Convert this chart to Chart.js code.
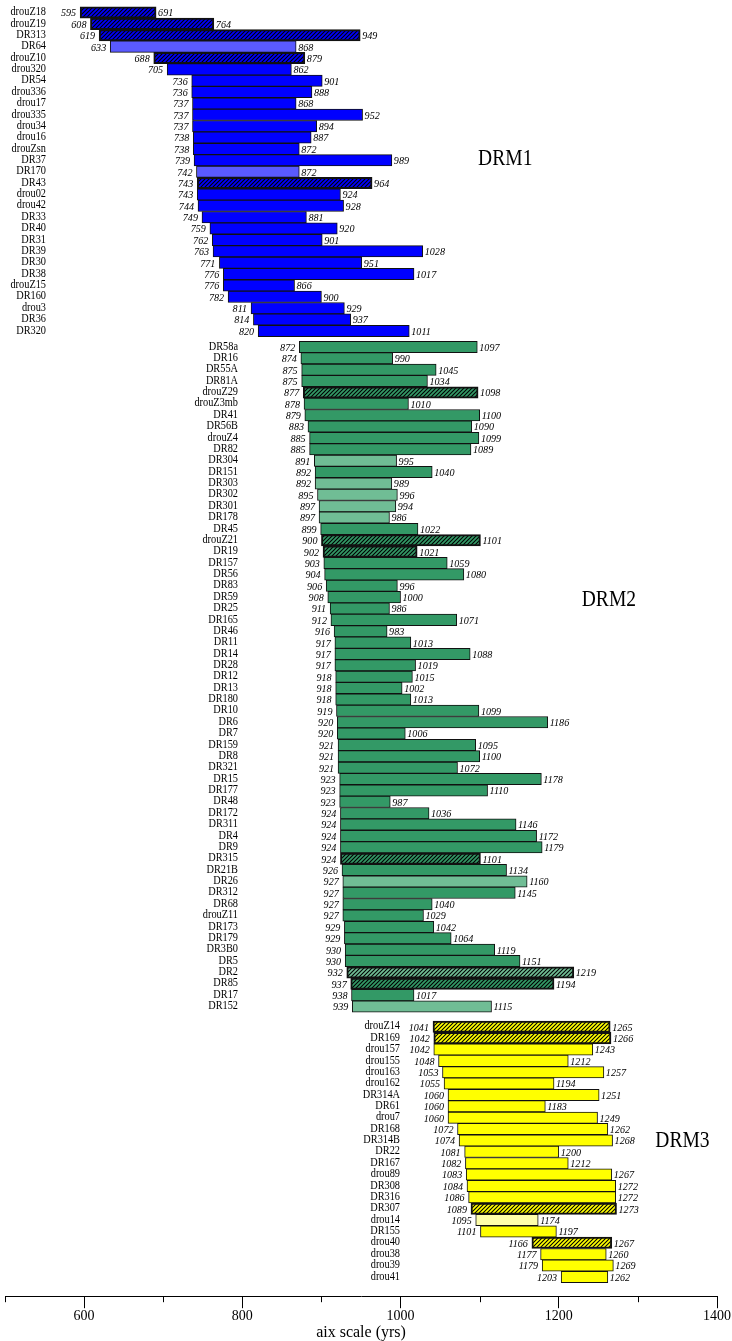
<!DOCTYPE html>
<html>
<head>
<meta charset="utf-8">
<script src="https://cdn.jsdelivr.net/npm/chart.js@4/dist/chart.umd.min.js"></script>
<style>
  html, body { margin: 0; padding: 0; background: #ffffff; }
  canvas { display: block; }
</style>
</head>
<body>
<canvas id="c" width="732" height="1341"></canvas>
<script>
// ---------------- DATA ----------------
const groupNames = ['DRM1', 'DRM2', 'DRM3'];

const drm1Names = ['drouZ18','drouZ19','DR313','DR64','drouZ10','drou320','DR54','drou336','drou17','drou335','drou34','drou16','drouZsn','DR37','DR170','DR43','drou02','drou42','DR33','DR40','DR31','DR39','DR30','DR38','drouZ15','DR160','drou3','DR36','DR320'];
const drm1Start = [595,608,619,633,688,705,736,736,737,737,737,738,738,739,742,743,743,744,749,759,762,763,771,776,776,782,811,814,820];
const drm1End   = [691,764,949,868,879,862,901,888,868,952,894,887,872,989,872,964,924,928,881,920,901,1028,951,1017,866,900,929,937,1011];

const drm2Names = ['DR58a','DR16','DR55A','DR81A','drouZ29','drouZ3mb','DR41','DR56B','drouZ4','DR82','DR304','DR151','DR303','DR302','DR301','DR178','DR45','drouZ21','DR19','DR157','DR56','DR83','DR59','DR25','DR165','DR46','DR11','DR14','DR28','DR12','DR13','DR180','DR10','DR6','DR7','DR159','DR8','DR321','DR15','DR177','DR48','DR172','DR311','DR4','DR9','DR315','DR21B','DR26','DR312','DR68','drouZ11','DR173','DR179','DR3B0','DR5','DR2','DR85','DR17','DR152'];
const drm2Start = [872,874,875,875,877,878,879,883,885,885,891,892,892,895,897,897,899,900,902,903,904,906,908,911,912,916,917,917,917,918,918,918,919,920,920,921,921,921,923,923,923,924,924,924,924,924,926,927,927,927,927,929,929,930,930,932,937,938,939];
const drm2End   = [1097,990,1045,1034,1098,1010,1100,1090,1099,1089,995,1040,989,996,994,986,1022,1101,1021,1059,1080,996,1000,986,1071,983,1013,1088,1019,1015,1002,1013,1099,1186,1006,1095,1100,1072,1178,1110,987,1036,1146,1172,1179,1101,1134,1160,1145,1040,1029,1042,1064,1119,1151,1219,1194,1017,1115];

const drm3Names = ['drouZ14','DR169','drou157','drou155','drou163','drou162','DR314A','DR61','drou7','DR168','DR314B','DR22','DR167','drou89','DR308','DR316','DR307','drou14','DR155','drou40','drou38','drou39','drou41'];
const drm3Start = [1041,1042,1042,1048,1053,1055,1060,1060,1060,1072,1074,1081,1082,1083,1084,1086,1089,1095,1101,1166,1177,1179,1203];
const drm3End   = [1265,1266,1243,1212,1257,1194,1251,1183,1249,1262,1268,1200,1212,1267,1272,1272,1273,1174,1197,1267,1260,1269,1262];

// sample categories (marked in the original with hatching / paler tint)
const hatchedSamples = ['drouZ18','drouZ19','DR313','drouZ10','DR43','drouZ29','drouZ21','DR19','DR315','DR2','DR85','drouZ14','DR169','DR307','drou40'];
const paleSamples = ['DR64','DR170','DR304','DR303','DR302','DR301','DR178','DR26','DR2','DR152','drou14'];

const xTickValues = [600, 800, 1000, 1200, 1400];
const xMinorTickValues = [500, 700, 900, 1100, 1300];
const xAxisTitle = 'aix scale (yrs)';

// ---------------- LAYOUT / STYLE ----------------
const groups = [
  { names: drm1Names, start: drm1Start, end: drm1End },
  { names: drm2Names, start: drm2Start, end: drm2End },
  { names: drm3Names, start: drm3Start, end: drm3End }
];
const groupGaps = [0, 1.41, 1.78];                 // spacing (in rows) between last row of a group and the next
const labelRightPx = [46, 238, 400];               // right edge of row labels per group
const groupTitleLayout = [
  { row: 'DR37',   dy: -0.1, xValue: 1098 },
  { row: 'DR59',   dy: 0.25, xValue: 1229 },
  { row: 'DR314B', dy: 0,    xValue: 1322 }
];
const baseColors = ['#0000ff', '#339966', '#ffff00'];
const paleColors = ['#5a5aff', '#70bd95', '#ffffaa'];

function makeHatch(color) {
  const c = document.createElement('canvas');
  c.width = 4; c.height = 4;
  const g = c.getContext('2d');
  g.fillStyle = color; g.fillRect(0, 0, 4, 4);
  g.strokeStyle = '#000'; g.lineWidth = 1.1;
  g.beginPath();
  g.moveTo(-1, 5); g.lineTo(5, -1);
  g.moveTo(-1, 1); g.lineTo(1, -1);
  g.moveTo(3, 5); g.lineTo(5, 3);
  g.stroke();
  return document.getElementById('c').getContext('2d').createPattern(c, 'repeat');
}

// build rows with their positions on the (linear) row axis
const rows = [];
(function () {
  let p = 0;
  groups.forEach((grp, gi) => {
    if (gi > 0) p += groupGaps[gi] - 1;
    grp.names.forEach((name, i) => {
      rows.push({ name, start: grp.start[i], end: grp.end[i], group: gi, pos: p });
      p += 1;
    });
  });
})();

const fills = rows.map(r => {
  const pale = paleSamples.includes(r.name);
  const col = pale ? paleColors[r.group] : baseColors[r.group];
  return hatchedSamples.includes(r.name) ? makeHatch(col) : col;
});
const borderW = rows.map(r => hatchedSamples.includes(r.name) ? 2 : 1);

const firstRowPx = 12.5, rowPx = 11.37, topPad = 6, axisLinePx = 1296;
const yMin = -(firstRowPx - topPad) / rowPx;
const yMax = yMin + (axisLinePx - topPad) / rowPx;

function drawText(ctx, text, x, y, font, align, sx) {
  ctx.save();
  ctx.font = font;
  ctx.textAlign = align;
  ctx.textBaseline = 'middle';
  ctx.fillStyle = '#000';
  ctx.translate(x, y);
  ctx.scale(sx, 1);
  ctx.fillText(text, 0, 0);
  ctx.restore();
}

const labelPlugin = {
  id: 'labels',
  afterDatasetsDraw(chart) {
    const ctx = chart.ctx;
    const meta = chart.getDatasetMeta(0);
    const xs = chart.scales.x, ys = chart.scales.y;
    meta.data.forEach((bar, i) => {
      const p = bar.getProps(['x', 'base', 'y'], true);
      const s = Math.min(p.x, p.base), e = Math.max(p.x, p.base);
      const r = rows[i];
      drawText(ctx, String(r.start), s - 4, p.y + 1, 'italic 11px "Liberation Serif"', 'right', 0.92);
      drawText(ctx, String(r.end), e + 2, p.y + 1, 'italic 11px "Liberation Serif"', 'left', 0.92);
      drawText(ctx, r.name, labelRightPx[r.group], p.y - 0.5, '12px "Liberation Serif"', 'right', 0.86);
    });
    groupTitleLayout.forEach((g, gi) => {
      const row = rows.find(r => r.name === g.row);
      const y = ys.getPixelForValue(row.pos + g.dy);
      drawText(ctx, groupNames[gi], xs.getPixelForValue(g.xValue), y, '23px "Liberation Serif"', 'left', 0.85);
    });
    // minor ticks
    ctx.save();
    ctx.strokeStyle = '#000'; ctx.lineWidth = 1;
    xMinorTickValues.forEach(v => {
      const x = Math.round(xs.getPixelForValue(v)) + 0.5;
      ctx.beginPath();
      ctx.moveTo(x, chart.chartArea.bottom);
      ctx.lineTo(x, chart.chartArea.bottom + 6);
      ctx.stroke();
    });
    ctx.restore();
  }
};

new Chart(document.getElementById('c'), {
  type: 'bar',
  data: {
    datasets: [{
      data: rows.map(r => ({ x: [r.start, r.end], y: r.pos })),
      backgroundColor: fills,
      borderColor: '#111',
      borderWidth: borderW,
      borderSkipped: false,
      barPercentage: 1,
      categoryPercentage: 1
    }]
  },
  options: {
    indexAxis: 'y',
    responsive: false,
    animation: false,
    layout: { padding: { top: topPad, left: 5, right: 15, bottom: 0 } },
    plugins: { legend: { display: false }, tooltip: { enabled: false } },
    scales: {
      y: { type: 'linear', reverse: true, offset: false, min: yMin, max: yMax, display: false },
      x: {
        type: 'linear', min: 500, max: 1400, offset: false,
        afterBuildTicks: (scale) => { scale.ticks = xTickValues.map(v => ({ value: v })); },
        ticks: {
          autoSkip: false, maxRotation: 0, padding: 0,
          color: '#000',
          font: { family: 'Liberation Serif', size: 14 },
          callback: (v) => String(v)
        },
        grid: { drawOnChartArea: false, tickLength: 12, tickColor: '#000', color: '#000' },
        border: { color: '#000', width: 1 },
        title: { display: true, text: xAxisTitle, color: '#000', font: { family: 'Liberation Serif', size: 16, lineHeight: 1 }, padding: { top: 0, bottom: 0 } }
      }
    }
  },
  plugins: [labelPlugin]
});
</script>
</body>
</html>
